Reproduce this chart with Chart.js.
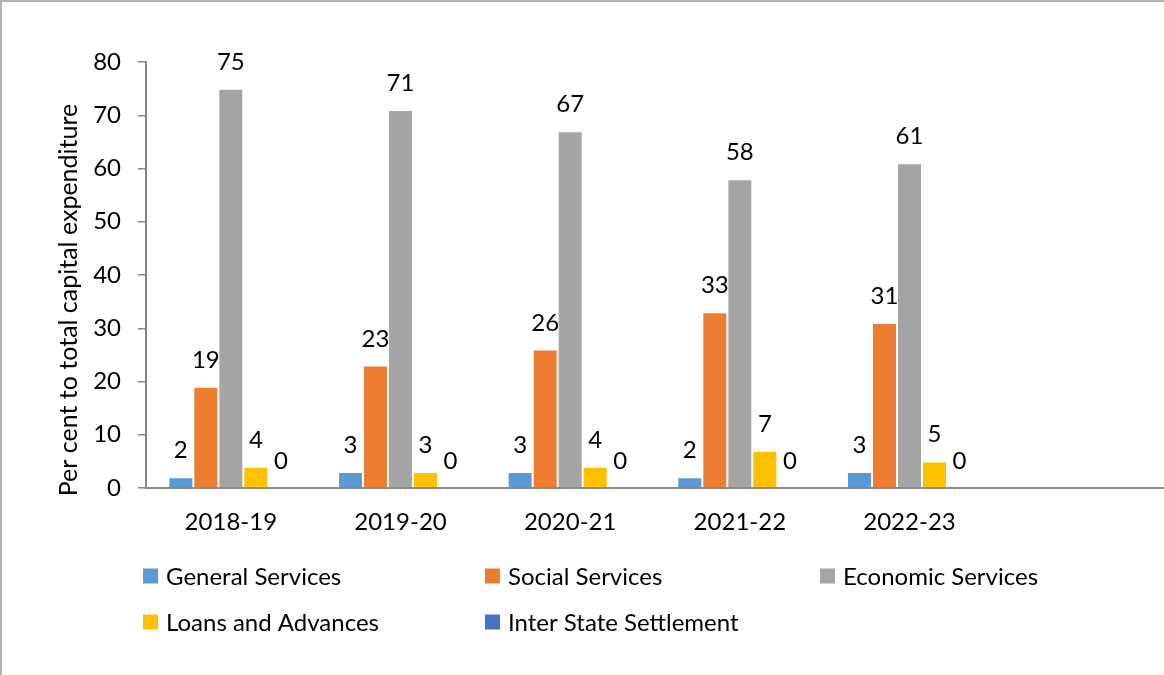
<!DOCTYPE html>
<html>
<head>
<meta charset="utf-8">
<title>Capital expenditure by sector</title>
<script src="https://cdn.jsdelivr.net/npm/chart.js@4.4.1/dist/chart.umd.min.js"></script>
<style>
  html, body { margin: 0; padding: 0; background: #ffffff; overflow: hidden; }
  #wrap { position: relative; width: 1164px; height: 675px; }
  #frame { position: absolute; left: 0; top: 0; width: 1164px; height: 675px; box-sizing: border-box;
           border-top: 2px solid #b3b3b3; border-left: 2px solid #b3b3b3; pointer-events: none; }
  canvas { display: block; }
</style>
</head>
<body>
<div id="wrap">
  <canvas id="chart" width="1164" height="675"></canvas>
  <div id="frame"></div>
</div>
<script>
// Share of each sector in total capital expenditure (per cent)
const years = ['2018-19', '2019-20', '2020-21', '2021-22', '2022-23', ''];
const generalServices      = [2, 3, 3, 2, 3];
const socialServices       = [19, 23, 26, 33, 31];
const economicServices     = [75, 71, 67, 58, 61];
const loansAndAdvances     = [4, 3, 4, 7, 5];
const interStateSettlement = [0, 0, 0, 0, 0];

const seriesNames  = ['General Services', 'Social Services', 'Economic Services', 'Loans and Advances', 'Inter State Settlement'];
const seriesColors = ['#5B9BD5', '#ED7D31', '#A5A5A5', '#FFC000', '#4472C4'];
const seriesValues = [generalServices, socialServices, economicServices, loansAndAdvances, interStateSettlement];

const yAxisTitle = 'Per cent to total capital expenditure';
const FONT_FAMILY = 'Lato, "Open Sans", sans-serif';
const FONT_SIZE = 24;
const AXIS_GREY = '#888888';

// Value labels above each bar
const barValueLabels = {
  id: 'barValueLabels',
  afterDatasetsDraw(chart) {
    const ctx = chart.ctx;
    ctx.save();
    ctx.font = FONT_SIZE + 'px ' + FONT_FAMILY;
    ctx.fillStyle = '#000000';
    ctx.textAlign = 'center';
    ctx.textBaseline = 'alphabetic';
    chart.data.datasets.forEach((ds, i) => {
      const meta = chart.getDatasetMeta(i);
      meta.data.forEach((bar, j) => {
        const v = ds.data[j];
        if (v === undefined || v === null) return;
        ctx.fillText(String(v), bar.x, bar.y - 19);
      });
    });
    ctx.restore();
  }
};

// Vertical axis title, drawn from the bottom upward
const yTitle = {
  id: 'yTitle',
  afterDraw(chart) {
    const ctx = chart.ctx;
    ctx.save();
    ctx.font = '25px ' + FONT_FAMILY;
    ctx.fillStyle = '#000000';
    ctx.textAlign = 'center';
    ctx.textBaseline = 'alphabetic';
    ctx.translate(77, 300);
    ctx.rotate(-Math.PI / 2);
    ctx.fillText(yAxisTitle, 0, 0);
    ctx.restore();
  }
};

// Legend laid out as a three-column grid under the axis
const gridLegend = {
  id: 'gridLegend',
  afterDraw(chart) {
    const ctx = chart.ctx;
    const colX = [143, 485, 820];
    const rowY = [576, 622];
    const box = 15;
    ctx.save();
    ctx.font = FONT_SIZE + 'px ' + FONT_FAMILY;
    ctx.textAlign = 'left';
    ctx.textBaseline = 'middle';
    chart.data.datasets.forEach((ds, i) => {
      const x = colX[i % 3];
      const y = rowY[Math.floor(i / 3)];
      ctx.fillStyle = ds.backgroundColor;
      ctx.fillRect(x, y - box / 2, box, box);
      ctx.fillStyle = '#000000';
      ctx.fillText(ds.label, x + box + 8, y + 1);
    });
    ctx.restore();
  }
};

const datasets = seriesNames.map((name, i) => ({
  label: name,
  data: seriesValues[i],
  backgroundColor: seriesColors[i],
  borderColor: '#ffffff',
  borderWidth: 1,
  borderSkipped: 'bottom',
  categoryPercentage: 0.737,
  barPercentage: 1.0
}));

new Chart(document.getElementById('chart'), {
  type: 'bar',
  data: { labels: years, datasets },
  options: {
    responsive: false,
    animation: false,
    devicePixelRatio: 1,
    layout: { padding: { top: 62, left: 0, right: 0, bottom: 0 } },
    plugins: {
      legend: { display: false },
      tooltip: { enabled: false },
      title: { display: false }
    },
    scales: {
      x: {
        grid: { display: false, drawTicks: false },
        border: { display: true, color: AXIS_GREY, width: 2 },
        ticks: {
          color: '#000000',
          font: { family: FONT_FAMILY, size: FONT_SIZE },
          padding: 20,
          maxRotation: 0,
          autoSkip: false
        },
        afterFit(scale) { scale.height = 187; }
      },
      y: {
        min: 0,
        max: 80,
        grid: { drawOnChartArea: false, drawTicks: true, tickLength: 8, color: AXIS_GREY, lineWidth: 1.5 },
        border: { display: true, color: AXIS_GREY, width: 2 },
        ticks: {
          stepSize: 10,
          color: '#000000',
          font: { family: FONT_FAMILY, size: FONT_SIZE },
          padding: 17
        },
        afterFit(scale) { scale.width = 146; }
      }
    }
  },
  plugins: [barValueLabels, yTitle, gridLegend]
});
</script>
</body>
</html>
